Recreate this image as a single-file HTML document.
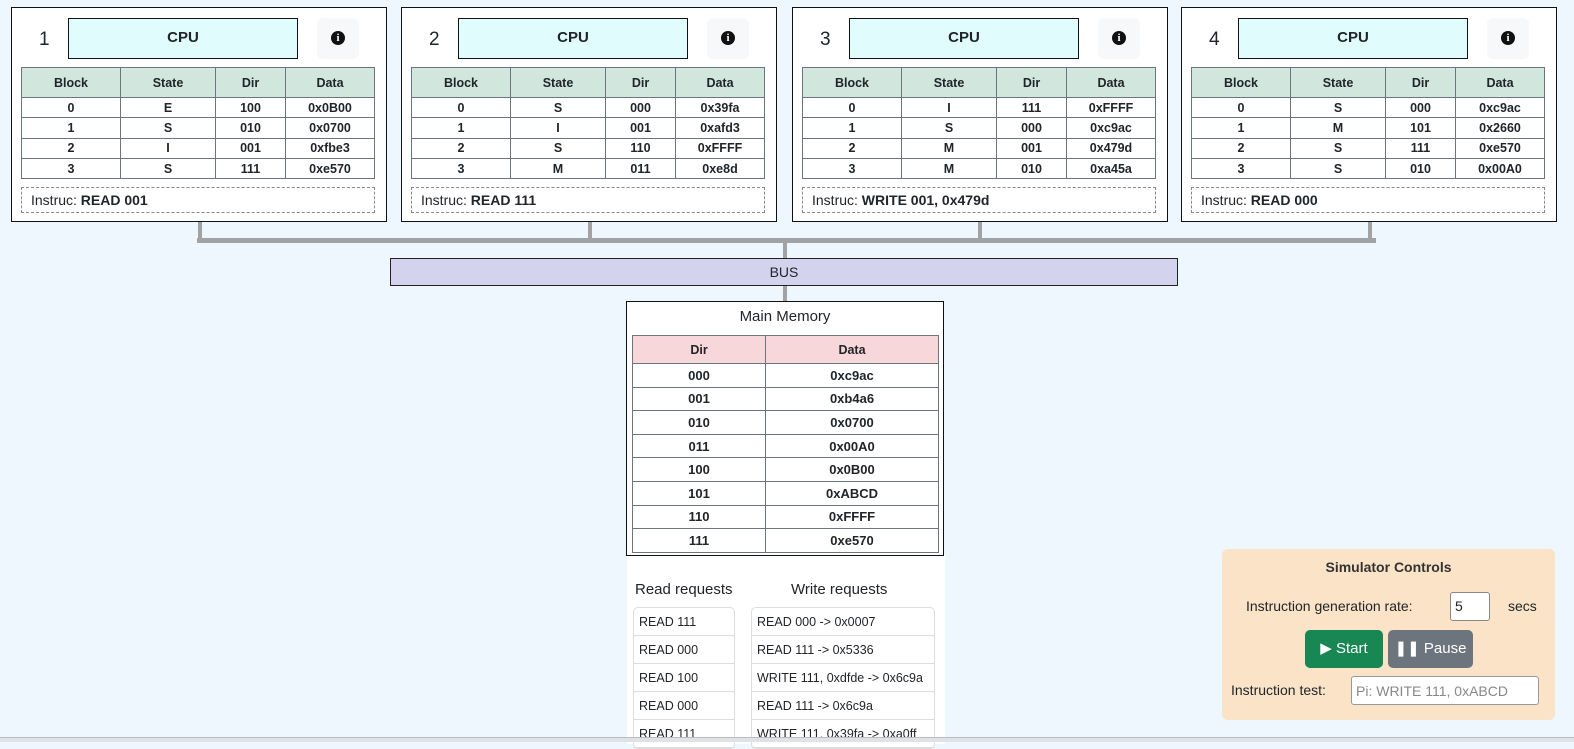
<!DOCTYPE html>
<html><head><meta charset="utf-8"><style>
*{box-sizing:border-box;margin:0;padding:0}
body{width:1574px;height:742px;background:#eef6fe;font-family:"Liberation Sans",sans-serif;position:relative;overflow:hidden;color:#212529}
.a{position:absolute}
.p{position:absolute;top:7px;width:376px;height:215px;background:#fff;border:1.5px solid #111}
.num{position:absolute;left:27px;top:21px;font-size:19px}
.cpu{position:absolute;left:56px;top:10px;width:230px;height:41px;background:#e0fcfd;border:1.5px solid #111;text-align:center;line-height:38px;font-weight:bold;font-size:15px}
.info{position:absolute;left:305px;top:10px;width:42px;height:41px;background:#f7f8fa;border-radius:6px}
.info:after{content:"i";position:absolute;left:14px;top:13px;width:14px;height:14px;border-radius:50%;background:#111;color:#fff;font-size:11px;font-weight:bold;text-align:center;line-height:14px;font-family:"Liberation Serif",serif}
table{border-collapse:collapse;font-size:12.5px;font-weight:bold;text-align:center}
td,th{border:1px solid #6c747c}
.ct{position:absolute;left:9px;top:59px;width:354px}
.ct th{background:#d1e7dd;height:30px}
.ct td{height:20.3px;padding:0}
.ins{position:absolute;left:9px;top:179px;width:354px;height:26px;border:1px dashed #888;font-size:14px;padding-left:9px;line-height:24px}
.g{background:#a0a2a4}
.mt{position:absolute;left:5px;top:33px;width:307px}
.mt th{background:#f8d7da;height:28px}
.mt td{height:23.6px;padding:0;font-size:13px}
.lst{position:absolute;top:607px;border:1px solid #ddd;border-radius:5px;background:#fff;font-size:12.5px}
.lst div{height:28px;line-height:28px;padding-left:5px;border-bottom:1px solid #ddd;white-space:nowrap}
</style></head><body>

<div class="a g" style="left:198px;top:222px;width:4px;height:18px"></div>
<div class="a g" style="left:588px;top:222px;width:4px;height:18px"></div>
<div class="a g" style="left:978px;top:222px;width:4px;height:18px"></div>
<div class="a g" style="left:1368px;top:222px;width:4px;height:18px"></div>
<div class="a g" style="left:197px;top:238px;width:1179px;height:5px"></div>
<div class="a g" style="left:783px;top:242px;width:4px;height:17px"></div>
<div class="a g" style="left:783px;top:285px;width:4px;height:17px"></div>

<div class="p" style="left:11px"><div class="num">1</div><div class="cpu">CPU</div><div class="info"></div>
<table class="ct"><tr><th style="width:99px">Block</th><th style="width:95px">State</th><th style="width:70px">Dir</th><th>Data</th></tr>
<tr><td>0</td><td>E</td><td>100</td><td>0x0B00</td></tr><tr><td>1</td><td>S</td><td>010</td><td>0x0700</td></tr><tr><td>2</td><td>I</td><td>001</td><td>0xfbe3</td></tr><tr><td>3</td><td>S</td><td>111</td><td>0xe570</td></tr></table>
<div class="ins">Instruc: <b>READ 001</b></div></div>

<div class="p" style="left:401px"><div class="num">2</div><div class="cpu">CPU</div><div class="info"></div>
<table class="ct"><tr><th style="width:99px">Block</th><th style="width:95px">State</th><th style="width:70px">Dir</th><th>Data</th></tr>
<tr><td>0</td><td>S</td><td>000</td><td>0x39fa</td></tr><tr><td>1</td><td>I</td><td>001</td><td>0xafd3</td></tr><tr><td>2</td><td>S</td><td>110</td><td>0xFFFF</td></tr><tr><td>3</td><td>M</td><td>011</td><td>0xe8d</td></tr></table>
<div class="ins">Instruc: <b>READ 111</b></div></div>

<div class="p" style="left:792px"><div class="num">3</div><div class="cpu">CPU</div><div class="info"></div>
<table class="ct"><tr><th style="width:99px">Block</th><th style="width:95px">State</th><th style="width:70px">Dir</th><th>Data</th></tr>
<tr><td>0</td><td>I</td><td>111</td><td>0xFFFF</td></tr><tr><td>1</td><td>S</td><td>000</td><td>0xc9ac</td></tr><tr><td>2</td><td>M</td><td>001</td><td>0x479d</td></tr><tr><td>3</td><td>M</td><td>010</td><td>0xa45a</td></tr></table>
<div class="ins">Instruc: <b>WRITE 001, 0x479d</b></div></div>

<div class="p" style="left:1181px"><div class="num">4</div><div class="cpu">CPU</div><div class="info"></div>
<table class="ct"><tr><th style="width:99px">Block</th><th style="width:95px">State</th><th style="width:70px">Dir</th><th>Data</th></tr>
<tr><td>0</td><td>S</td><td>000</td><td>0xc9ac</td></tr><tr><td>1</td><td>M</td><td>101</td><td>0x2660</td></tr><tr><td>2</td><td>S</td><td>111</td><td>0xe570</td></tr><tr><td>3</td><td>S</td><td>010</td><td>0x00A0</td></tr></table>
<div class="ins">Instruc: <b>READ 000</b></div></div>

<div class="a" style="left:390px;top:258px;width:788px;height:28px;background:#d3d3ee;border:1px solid #222;text-align:center;line-height:26px;font-size:14px">BUS</div>

<div class="a" style="left:627px;top:554px;width:318px;height:190px;background:#fff"></div>
<div class="a" style="left:626px;top:301px;width:318px;height:255px;background:#fff;border:1.5px solid #111">
<div style="text-align:center;font-size:15px;margin-top:6px">Main Memory</div>
<table class="mt"><tr><th style="width:133px">Dir</th><th>Data</th></tr>
<tr><td>000</td><td>0xc9ac</td></tr><tr><td>001</td><td>0xb4a6</td></tr><tr><td>010</td><td>0x0700</td></tr><tr><td>011</td><td>0x00A0</td></tr><tr><td>100</td><td>0x0B00</td></tr><tr><td>101</td><td>0xABCD</td></tr><tr><td>110</td><td>0xFFFF</td></tr><tr><td>111</td><td>0xe570</td></tr></table>
</div>

<div class="a" style="left:635px;top:581px;font-size:15px">Read requests</div>
<div class="a" style="left:791px;top:581px;font-size:15px">Write requests</div>
<div class="lst" style="left:633px;width:102px"><div>READ 111</div><div>READ 000</div><div>READ 100</div><div>READ 000</div><div>READ 111</div></div>
<div class="lst" style="left:751px;width:184px"><div>READ 000 -&gt; 0x0007</div><div>READ 111 -&gt; 0x5336</div><div>WRITE 111, 0xdfde -&gt; 0x6c9a</div><div>READ 111 -&gt; 0x6c9a</div><div>WRITE 111, 0x39fa -&gt; 0xa0ff</div></div>

<div class="a" style="left:0;top:737px;width:1574px;height:5px;background:#dfe3e8;border-top:1px solid #bbb"></div>

<div class="a" style="left:1222px;top:549px;width:333px;height:171px;background:#fae3c6;border-radius:6px;font-size:14px">
<div style="position:absolute;left:0;width:333px;top:10px;text-align:center;font-weight:bold;color:#333">Simulator Controls</div>
<div style="position:absolute;left:24px;top:49px">Instruction generation rate:</div>
<div style="position:absolute;left:228px;top:43px;width:40px;height:29px;background:#fff;border:1px solid #888;border-radius:3px;padding:5px 4px">5</div>
<div style="position:absolute;left:286px;top:49px">secs</div>
<div style="position:absolute;left:83px;top:81px;width:78px;height:38px;background:#198754;border-radius:5px;color:#fff;line-height:38px;text-align:center;font-size:15px">▶ Start</div>
<div style="position:absolute;left:166px;top:81px;width:85px;height:38px;background:#6c757d;border-radius:5px;color:#fff;line-height:38px;text-align:center;font-size:15px">❚❚ Pause</div>
<div style="position:absolute;left:9px;top:133px">Instruction test:</div>
<div style="position:absolute;left:129px;top:127px;width:188px;height:29px;background:#fff;border:1px solid #999;border-radius:3px;padding:6px 4px;color:#888">Pi: WRITE 111, 0xABCD</div>
</div>
</body></html>
